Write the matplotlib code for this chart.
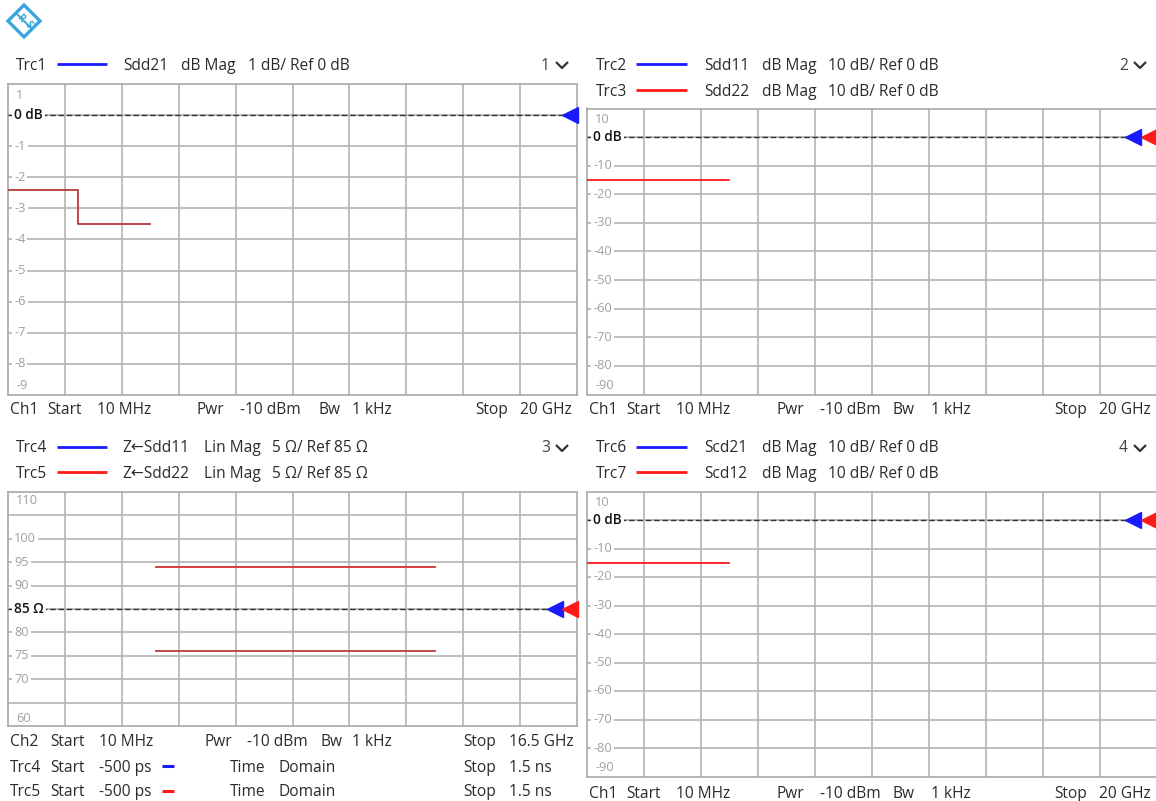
import numpy as np
import matplotlib
matplotlib.use("Agg")
import matplotlib.pyplot as plt
from matplotlib.lines import Line2D
from matplotlib.patches import Polygon

plt.rcParams['font.family'] = ['Open Sans', 'DejaVu Sans']

W, H = 1156, 801

# --- trace data -------------------------------------------------------------
# Trc1 Sdd21 (dB), step trace in GHz
trc1_f = [0.01, 2.47, 2.47, 5.0]
trc1_db = [-2.4, -2.4, -3.5, -3.5]
# Trc3 Sdd22 (dB)
trc3_f = [0.01, 5.0]
trc3_db = [-15.0, -15.0]
# Trc5 Z<-Sdd22 time domain (ns, ohm)
trc5_t = [0.02, 1.0]
trc5_hi = [94.0, 94.0]
trc5_lo = [76.0, 76.0]
# Trc7 Scd12 (dB)
trc7_f = [0.01, 5.0]
trc7_db = [-15.0, -15.0]

db1_ticks = [1, 0, -1, -2, -3, -4, -5, -6, -7, -8, -9]
db10_ticks = [10, 0, -10, -20, -30, -40, -50, -60, -70, -80, -90]
ohm_ticks = [110, 100, 95, 90, 85, 80, 75, 70, 60]

TXT = '#2b2b2b'
TICK = '#a0a0a0'
GRID = '#b4b4b4'
BLUE = '#1a1aff'
RED = '#ff1a1a'

fig = plt.figure(figsize=(W / 100, H / 100), dpi=100)


def fx(x):
    return x / W


def fy(y):
    return 1 - y / H


def ftext(x, y, s, size=11.2, color=TXT, **kw):
    # y is the visual centre of the text line; nudge for the font's descent
    fig.text(fx(x), fy(y + 1.5), s, fontsize=size, color=color, ha='left', va='center', **kw)


def fline(xs, ys, color, lw=2.0):
    fig.add_artist(Line2D([fx(v) for v in xs], [fy(v) for v in ys],
                          color=color, lw=lw, transform=fig.transFigure,
                          solid_capstyle='butt'))


def make_axes(left, top, right, bottom, xlim, ylim):
    ax = fig.add_axes([fx(left), fy(bottom), (right - left) / W, (bottom - top) / H])
    ax.set_xlim(*xlim)
    ax.set_ylim(*ylim)
    ax.set_xticks(np.linspace(xlim[0], xlim[1], 11)[1:-1])
    ax.set_yticks(np.linspace(ylim[0], ylim[1], 11)[1:-1])
    ax.tick_params(length=0, labelbottom=False, labelleft=False)
    ax.grid(True, color=GRID, lw=1.2)
    ax.set_axisbelow(True)
    for sp in ax.spines.values():
        sp.set_color('#a8a8a8')
        sp.set_linewidth(1.2)
    return ax


def y_labels(ax, ticks, ref, ref_text, width_px):
    lo, hi = ax.get_ylim()
    off = 6 / width_px
    for v in ticks:
        if v == hi:
            ax.text(off + 0.004, 0.962, str(v), transform=ax.transAxes, fontsize=9.2,
                    color=TICK, ha='left', va='center')
        elif v == lo:
            ax.text(off + 0.004, 0.03, str(v), transform=ax.transAxes, fontsize=9.2,
                    color=TICK, ha='left', va='center')
        elif v == ref:
            ax.text(off, v, ref_text, transform=ax.get_yaxis_transform(), fontsize=9.8,
                    color='#111111', fontweight='semibold', ha='left', va='center',
                    bbox=dict(facecolor='white', edgecolor='none', pad=1.5), zorder=4)
        else:
            ax.text(off, v, str(v), transform=ax.get_yaxis_transform(), fontsize=9.2,
                    color=TICK, ha='left', va='center',
                    bbox=dict(facecolor='white', edgecolor='none', pad=1.5), zorder=4)


def ref_line(ax, ref, width_px, markers):
    # dashed reference line ending at the leftmost marker tip
    tip = 1 - (max(d for d, _ in markers) + 7.5) / width_px
    ax.plot([0, tip], [ref, ref], transform=ax.get_yaxis_transform(),
            color='#333333', lw=1.0, ls=(0, (4, 2)), zorder=3)
    for d, c in markers:
        ax.plot(1 - d / width_px, ref, marker='<', ms=11, color=c, mec=c,
                transform=ax.get_yaxis_transform(), clip_on=False, zorder=5)


def chevron(x, y):
    fline([x, x + 6, x + 12], [y - 3, y + 3, y - 3], '#333333', lw=1.6)


# --- logo -------------------------------------------------------------------
cx, cy, r = 24, 21, 16
logo_blue = '#3aa6dd'
fig.add_artist(Polygon([(fx(cx - r), fy(cy)), (fx(cx), fy(cy - r)), (fx(cx + r), fy(cy)),
                        (fx(cx), fy(cy + r))], closed=True, facecolor='white',
                       edgecolor=logo_blue, lw=2.4, transform=fig.transFigure))
fline([cx - 8, cx + 8], [cy - 8, cy + 8], logo_blue, lw=1.4)
fig.text(fx(cx - 4), fy(cy - 3), 'R', fontsize=7, color=logo_blue, ha='center', va='center',
         rotation=-45, fontweight='bold')
fig.text(fx(cx + 4), fy(cy + 4), 'S', fontsize=7, color=logo_blue, ha='center', va='center',
         rotation=-45, fontweight='bold')

# --- panel 1: Sdd21 ---------------------------------------------------------
ax1 = make_axes(8, 84, 577, 395, (0.01, 20.0), (-9, 1))
ax1.plot(trc1_f, trc1_db, color='#b83a3a', lw=1.3, zorder=3)
y_labels(ax1, db1_ticks, 0, '0 dB', 569)
ref_line(ax1, 0, 569, [(7, BLUE)])

ftext(16, 64, 'Trc1')
fline([57, 107], [64, 64], BLUE)
ftext(123, 64, 'Sdd21')
ftext(181, 64, 'dB Mag')
ftext(248, 64, '1 dB/ Ref 0 dB')
ftext(541, 64, '1', color='#444444')
chevron(556, 65)

for x, s in [(10, 'Ch1'), (47, 'Start'), (97, '10 MHz'), (197, 'Pwr'), (240, '-10 dBm'),
             (318, 'Bw'), (352, '1 kHz'), (475, 'Stop'), (520, '20 GHz')]:
    ftext(x, 409, s)

# --- panel 2: Sdd11 / Sdd22 -------------------------------------------------
ax2 = make_axes(587, 108.5, 1157, 394.5, (0.01, 20.0), (-90, 10))
ax2.plot(trc3_f, trc3_db, color=RED, lw=1.3, zorder=3)
y_labels(ax2, db10_ticks, 0, '0 dB', 570)
ref_line(ax2, 0, 570, [(24, BLUE), (8, RED)])

for y, trc, col, par in [(64, 'Trc2', BLUE, 'Sdd11'), (90, 'Trc3', RED, 'Sdd22')]:
    ftext(596, y, trc)
    fline([636, 687], [y, y], col)
    ftext(704, y, par)
    ftext(762, y, 'dB Mag')
    ftext(828, y, '10 dB/ Ref 0 dB')
ftext(1119, 64, '2', color='#444444')
chevron(1134, 65)

foot_right = [(589, 'Ch1'), (626, 'Start'), (676, '10 MHz'), (776, 'Pwr'), (820, '-10 dBm'),
              (893, 'Bw'), (931, '1 kHz'), (1054, 'Stop'), (1099, '20 GHz')]
for x, s in foot_right:
    ftext(x, 409, s)

# --- panel 3: Z<-Sdd11 / Z<-Sdd22 time domain --------------------------------
ax3 = make_axes(8, 492, 577, 726, (-0.5, 1.5), (60, 110))
ax3.plot(trc5_t, trc5_hi, color='#d23030', lw=1.3, zorder=3)
ax3.plot(trc5_t, trc5_lo, color='#b83a3a', lw=1.3, zorder=3)
y_labels(ax3, ohm_ticks, 85, '85 Ω', 569)
ref_line(ax3, 85, 569, [(22, BLUE), (7, RED)])

for y, trc, col, par in [(447, 'Trc4', BLUE, 'Z←Sdd11'), (472, 'Trc5', RED, 'Z←Sdd22')]:
    ftext(16, y, trc)
    fline([57, 107], [y, y], col)
    ftext(122, y, par)
    ftext(204, y, 'Lin Mag')
    ftext(272, y, '5 Ω/ Ref 85 Ω')
ftext(541, 447, '3', color='#444444')
chevron(556, 448)

for x, s in [(10, 'Ch2'), (50, 'Start'), (99, '10 MHz'), (204, 'Pwr'), (247, '-10 dBm'),
             (320, 'Bw'), (352, '1 kHz'), (463, 'Stop'), (509, '16.5 GHz')]:
    ftext(x, 741, s)
for y, trc, col in [(766, 'Trc4', BLUE), (791, 'Trc5', RED)]:
    ftext(10, y, trc)
    ftext(50, y, 'Start')
    ftext(99, y, '-500 ps')
    fline([162, 174], [y, y], col, lw=2.2)
    ftext(230, y, 'Time')
    ftext(279, y, 'Domain')
    ftext(463, y, 'Stop')
    ftext(509, y, '1.5 ns')

# --- panel 4: Scd21 / Scd12 -------------------------------------------------
ax4 = make_axes(587, 491.5, 1157, 776.5, (0.01, 20.0), (-90, 10))
ax4.plot(trc7_f, trc7_db, color=RED, lw=1.3, zorder=3)
y_labels(ax4, db10_ticks, 0, '0 dB', 570)
ref_line(ax4, 0, 570, [(24, BLUE), (8, RED)])

for y, trc, col, par in [(447, 'Trc6', BLUE, 'Scd21'), (472, 'Trc7', RED, 'Scd12')]:
    ftext(596, y, trc)
    fline([636, 687], [y, y], col)
    ftext(704, y, par)
    ftext(762, y, 'dB Mag')
    ftext(828, y, '10 dB/ Ref 0 dB')
ftext(1119, 447, '4', color='#444444')
chevron(1134, 448)

for x, s in foot_right:
    ftext(x, 792, s)

fig.savefig('out.png', dpi=100)
